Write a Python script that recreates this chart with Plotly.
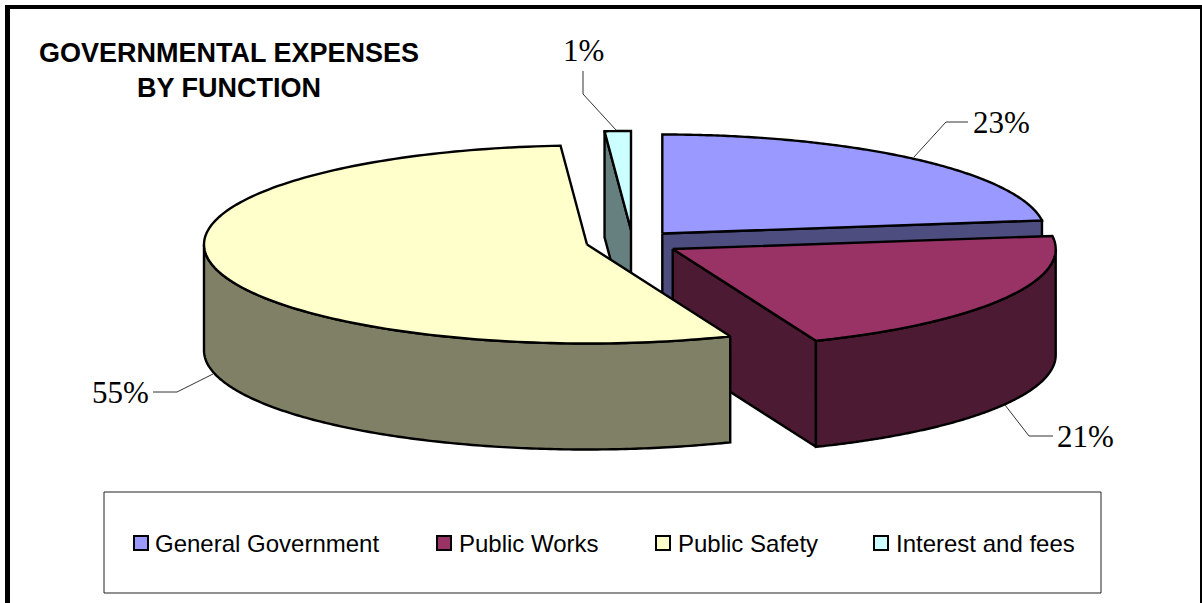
import numpy as np
import plotly.graph_objects as go

# --- data ---
categories = ["General Government", "Public Works", "Public Safety", "Interest and fees"]
values = [22.9, 21.0, 55.0, 1.1]
chart_title = ["GOVERNMENTAL EXPENSES", "BY FUNCTION"]

# --- styles / layout ---
top_colors = ["#9999FF", "#993366", "#FFFFCC", "#CCFFFF"]
side_colors = ["#4D4D80", "#4D1A33", "#808066", "#668080"]
apex_x = [662.3, 672.7, 587.0, 631.0]
apex_y = [233.5, 249.0, 244.5, 230.0]
RX, RY, DEPTH = 383.0, 99.0, 106.0
leader_x = [[914, 946, 968], [1005, 1029, 1053], [213, 177, 153], [616, 583, 583]]
leader_y = [[157, 122, 122], [405, 436, 436], [374, 392, 392], [130, 94, 71]]
label_x = [1001, 1085, 120, 583]
label_y = [122, 436, 392, 50]
legend_sw_x = [141, 444, 663, 881]
legend_tx_x = [153, 457, 676, 894]
draw_order = [0, 3, 1, 2]

cum = np.concatenate([[0], np.cumsum(values)]) / np.sum(values) * 2 * np.pi


def arc(i, t0, t1, dz=0.0):
    t = np.linspace(t0, t1, 160)
    return apex_x[i] + RX * np.sin(t), apex_y[i] - RY * np.cos(t) + dz


fig = go.Figure()


def poly(x, y, color):
    fig.add_trace(go.Scatter(
        x=np.append(x, x[0]), y=np.append(y, y[0]), mode="lines", fill="toself",
        fillcolor=color, line=dict(color="black", width=2.4, simplify=False),
        hoverinfo="skip", showlegend=False))


for i in draw_order:
    t0, t1 = cum[i], cum[i + 1]
    # radial cut face at the slice end, when it faces the viewer
    if np.cos(t1) < 0.5 and np.sin(t1) > 0 or i == 3 or i == 0:
        end_t = t1 if i != 3 else t0
        fx, fy = arc(i, end_t, end_t)
        poly(np.array([apex_x[i], fx[0], fx[0], apex_x[i]]),
             np.array([apex_y[i], fy[0], fy[0] + DEPTH, apex_y[i] + DEPTH]),
             side_colors[i])
    # outer wall: only the part of the rim on the near side
    lo, hi = max(t0, np.pi / 2), min(t1, 3 * np.pi / 2)
    if hi > lo:
        ax, ay = arc(i, lo, hi)
        bx, by = arc(i, lo, hi, DEPTH)
        poly(np.concatenate([ax, bx[::-1]]), np.concatenate([ay, by[::-1]]), side_colors[i])
    # top face
    ax, ay = arc(i, t0, t1)
    poly(np.concatenate([[apex_x[i]], ax]), np.concatenate([[apex_y[i]], ay]), top_colors[i])

# leader lines
for lx, ly in zip(leader_x, leader_y):
    fig.add_trace(go.Scatter(x=lx, y=ly, mode="lines", line=dict(color="#333333", width=1),
                             hoverinfo="skip", showlegend=False))

# percentage labels
for i, v in enumerate(values):
    fig.add_annotation(x=label_x[i], y=label_y[i], text=f"{round(v)}%", showarrow=False,
                       font=dict(family="Liberation Serif", size=31, color="black"),
                       xanchor="center", yanchor="middle")

# title
for line, yy in zip(chart_title, [53, 88]):
    fig.add_annotation(x=229, y=yy, text=f"<b>{line}</b>", showarrow=False,
                       font=dict(family="Liberation Sans", size=27, color="black"),
                       xanchor="center", yanchor="middle")

# legend
fig.add_trace(go.Scatter(
    x=legend_sw_x, y=[543] * 4, mode="markers",
    marker=dict(symbol="square", size=14, color=top_colors, line=dict(color="black", width=2)),
    hoverinfo="skip", showlegend=False))
for name, tx in zip(categories, legend_tx_x):
    fig.add_annotation(x=tx, y=543, text=name, showarrow=False,
                       font=dict(family="Liberation Sans", size=24, color="black"),
                       xanchor="left", yanchor="middle")

frame = dict(type="rect", xref="x", yref="y", fillcolor="black", line_width=0)
fig.update_layout(
    width=1202, height=603, margin=dict(l=0, r=0, t=0, b=0),
    paper_bgcolor="white", plot_bgcolor="white", showlegend=False,
    xaxis=dict(range=[0, 1202], visible=False, fixedrange=True),
    yaxis=dict(range=[603, 0], visible=False, fixedrange=True),
    shapes=[
        dict(frame, x0=5, x1=1202, y0=5, y1=9),
        dict(frame, x0=5, x1=10, y0=5, y1=603),
        dict(frame, x0=1200, x1=1202, y0=5, y1=603),
        dict(type="rect", xref="x", yref="y", x0=104, x1=1101, y0=492, y1=593,
             fillcolor="white", line=dict(color="#222222", width=1), layer="below"),
    ],
)

fig.write_html("out.html", config=dict(displayModeBar=False),
               post_script="document.body.style.margin='0';document.body.style.overflow='hidden';")
